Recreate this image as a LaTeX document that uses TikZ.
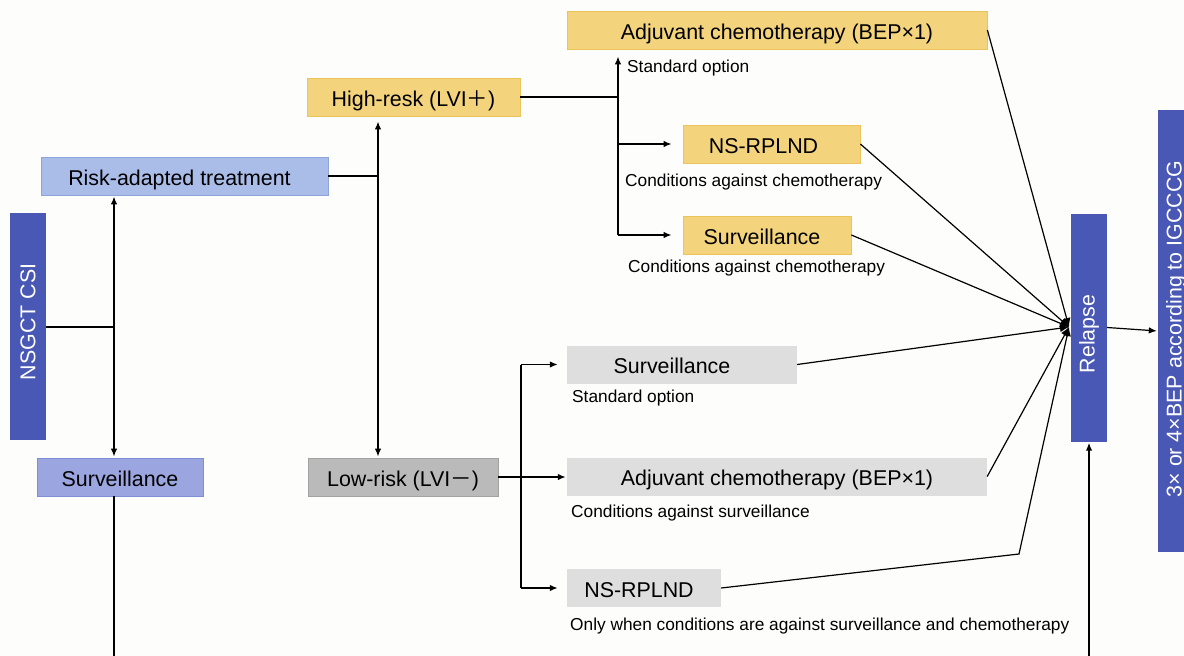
\documentclass[tikz,border=0pt]{standalone}
\usepackage{fontspec}
\setmainfont{Liberation Sans}
\newfontfamily\cjk{Noto Sans CJK SC}
\usetikzlibrary{arrows.meta}
\definecolor{bgc}{RGB}{253,253,251}
\definecolor{goldfill}{RGB}{244,211,125}
\definecolor{golddraw}{RGB}{236,196,92}
\definecolor{greyfill}{RGB}{222,222,222}
\definecolor{darkgreyfill}{RGB}{186,186,186}
\definecolor{darkgreydraw}{RGB}{162,162,162}
\definecolor{lightbluefill}{RGB}{170,188,232}
\definecolor{lightbluedraw}{RGB}{143,163,220}
\definecolor{midbluefill}{RGB}{155,166,224}
\definecolor{midbluedraw}{RGB}{128,142,214}
\definecolor{darkblue}{RGB}{73,88,180}
\newcommand\boxfont{\fontsize{21.4}{25}\selectfont}
\newcommand\lblfont{\fontsize{17.3}{20}\selectfont}
\newcommand\tshift[1]{\hspace*{#1}}
\begin{document}
\begin{tikzpicture}[x=1pt,y=-1pt,
  basebox/.style={rectangle, inner sep=0pt, minimum height=38pt, text height=18pt, text depth=0pt, font=\boxfont, text=black},
  goldbox/.style={basebox, fill=goldfill, draw=golddraw, line width=0.8pt},
  greybox/.style={basebox, fill=greyfill},
  dgreybox/.style={basebox, fill=darkgreyfill, draw=darkgreydraw, line width=0.8pt},
  lbluebox/.style={basebox, fill=lightbluefill, draw=lightbluedraw, line width=0.8pt},
  mbluebox/.style={basebox, fill=midbluefill, draw=midbluedraw, line width=0.8pt},
  dbluebox/.style={rectangle, inner sep=0pt, fill=darkblue},
  vtext/.style={rotate=90, font=\boxfont, text=white, inner sep=0pt},
  lbl/.style={anchor=west, inner sep=0pt, font=\lblfont, text=black},
  conn/.style={line width=1.5pt, black},
  arr/.style={conn, -{Latex[length=8pt,width=6.5pt]}},
  rel/.style={line width=1.2pt, black, -{Latex[length=9pt,width=8pt]}}
]
\fill[bgc] (0,0) rectangle (1184,656);
\useasboundingbox (0,0) rectangle (1184,656);

% left column
\node[dbluebox, minimum width=36pt, minimum height=227pt] (nsgct) at (28,326.5) {};
\node[vtext] (nsgcttext) at (28,322) {NSGCT CSI};
\node[lbluebox, minimum width=287pt] (risk) at (184.5,176) {\tshift{-10pt}Risk-adapted treatment};
\node[mbluebox, minimum width=166pt] (survL) at (120,477) {Surveillance};

% middle column
\node[goldbox, minimum width=213pt] (high) at (413.5,97) {High-resk (LVI{\cjk ＋})};
\node[dgreybox, minimum width=190pt] (low) at (403,477) {Low-risk (LVI{\cjk －})};

% high-risk options
\node[goldbox, minimum width=420pt] (adjY) at (777,30) {Adjuvant chemotherapy (BEP×1)};
\node[goldbox, minimum width=177pt] (nsY) at (771.5,144) {\tshift{-16pt}NS-RPLND};
\node[goldbox, minimum width=168pt] (survY) at (767,235) {\tshift{-10pt}Surveillance};
\node[lbl] (l1) at (627,68.5) {Standard option};
\node[lbl] (l2) at (625,182.5) {Conditions against chemotherapy};
\node[lbl] (l3) at (628,268.5) {Conditions against chemotherapy};

% low-risk options
\node[greybox, minimum width=230pt] (survG) at (682,364.5) {\tshift{-20pt}Surveillance};
\node[greybox, minimum width=420pt] (adjG) at (777,476.5) {Adjuvant chemotherapy (BEP×1)};
\node[greybox, minimum width=154pt] (nsG) at (644,588) {\tshift{-10pt}NS-RPLND};
\node[lbl] (l4) at (572,398.5) {Standard option};
\node[lbl] (l5) at (571,513.5) {Conditions against surveillance};
\node[lbl] (l6) at (570,626.5) {Only when conditions are against surveillance and chemotherapy};

% relapse and final
\node[dbluebox, minimum width=36pt, minimum height=228pt] (relapse) at (1089,327.5) {};
\node[vtext] (relapsetext) at (1089,334) {Relapse};
\node[dbluebox, minimum width=36pt, minimum height=442pt] (final) at (1176,331) {};
\node[vtext] (finaltext) at (1176,329) {3× or 4×BEP according to IGCCCG};

% coordinates
\coordinate (j1) at (114,327);
\coordinate (j2) at (378,176);
\coordinate (j3) at (618,97);
\coordinate (j4) at (521,477);
\coordinate (conv) at (1069,327);
\coordinate (kink) at (1019,554);
\coordinate (botL) at (114,660);
\coordinate (botR) at (1089,660);

% connectors left
\draw[conn] (nsgct.east |- j1) -- (j1);
\draw[arr, shorten >=1pt] (j1) -- (j1 |- risk.south);
\draw[arr, shorten >=1pt] (j1) -- (j1 |- survL.north);
\draw[conn] (survL.south -| botL) -- (botL);

% connectors middle
\draw[conn] (risk.east |- j2) -- (j2);
\draw[arr, shorten >=5pt] (j2) -- (j2 |- high.south);
\draw[arr, shorten >=1pt] (j2) -- (j2 |- low.north);

% high-risk branch
\draw[conn] (high.east |- j3) -- (j3);
\draw[arr, shorten >=7pt] (j3) -- (j3 |- adjY.south);
\draw[conn] (j3) -- (j3 |- nsY.west) -- (j3 |- survY.west);
\draw[arr, shorten >=11pt] (j3 |- nsY.west) -- (nsY.west);
\draw[arr, shorten >=11pt] (j3 |- survY.west) -- (survY.west);

% low-risk branch
\draw[arr, shorten >=1pt] (low.east |- j4) -- (adjG.west |- j4);
\draw[conn] (j4 |- survG.west) -- (j4 |- nsG.west);
\draw[arr, shorten >=9pt] (j4 |- survG.west) -- (survG.west);
\draw[arr, shorten >=9pt] (j4 |- nsG.west) -- (nsG.west);

% to relapse
\draw[rel] (adjY.east) -- (conv);
\draw[rel] (nsY.east) -- (conv);
\draw[rel] (survY.east) -- (conv);
\draw[rel] (survG.east) -- (conv);
\draw[rel] (adjG.east) -- (conv);
\draw[rel] (nsG.east) -- (kink) -- (conv);
\draw[arr, shorten >=1pt] (botR) -- (relapse.south);
\draw[arr, line width=1.2pt, shorten >=1pt] (relapse.east) -- (final.west);
\end{tikzpicture}
\end{document}
